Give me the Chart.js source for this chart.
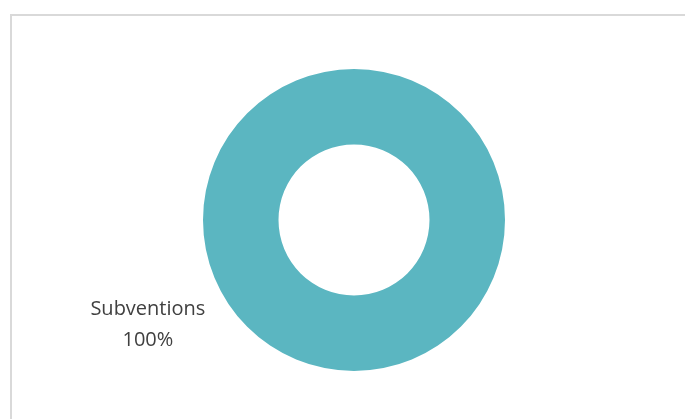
<!DOCTYPE html>
<html>
<head>
<meta charset="utf-8">
<script src="https://cdn.jsdelivr.net/npm/chart.js@4/dist/chart.umd.min.js"></script>
<style>
  html, body { margin: 0; padding: 0; background: #fff; }
  #wrap { position: relative; width: 685px; height: 419px; overflow: hidden; }
  #frame { position: absolute; left: 10px; top: 14px; width: 680px; height: 420px;
           border-top: 2px solid #d9d9d9; border-left: 2px solid #d9d9d9; box-sizing: border-box; }
  canvas { position: absolute; left: 0; top: 0; }
</style>
</head>
<body>
<div id="wrap">
  <div id="frame"></div>
  <canvas id="c" width="685" height="419"></canvas>
</div>
<script>
const categories = ['Subventions'];
const values = [100];
const colors = ['#5BB6C1'];

const labelPlugin = {
  id: 'outLabels',
  afterDatasetsDraw(chart) {
    const ctx = chart.ctx;
    const meta = chart.getDatasetMeta(0);
    const total = values.reduce((a, b) => a + b, 0);
    meta.data.forEach((arc, i) => {
      const pct = Math.round(values[i] / total * 100) + '%';
      const x = arc.x - arc.outerRadius * 1.365;
      const y = arc.y + arc.outerRadius * 0.6;
      ctx.save();
      ctx.fillStyle = '#404040';
      ctx.font = '20px "Open Sans", "Liberation Sans", sans-serif';
      ctx.textAlign = 'center';
      ctx.textBaseline = 'middle';
      ctx.fillText(categories[i], x, y - 1);
      ctx.fillText(pct, x, y + 30);
      ctx.restore();
    });
  }
};

new Chart(document.getElementById('c'), {
  type: 'doughnut',
  data: {
    labels: categories,
    datasets: [{ data: values, backgroundColor: colors, borderWidth: 0 }]
  },
  options: {
    responsive: false,
    animation: false,
    cutout: '50%',
    layout: { padding: { left: 203, right: 180, top: 69, bottom: 48 } },
    plugins: { legend: { display: false }, tooltip: { enabled: false } }
  },
  plugins: [labelPlugin]
});
</script>
</body>
</html>
